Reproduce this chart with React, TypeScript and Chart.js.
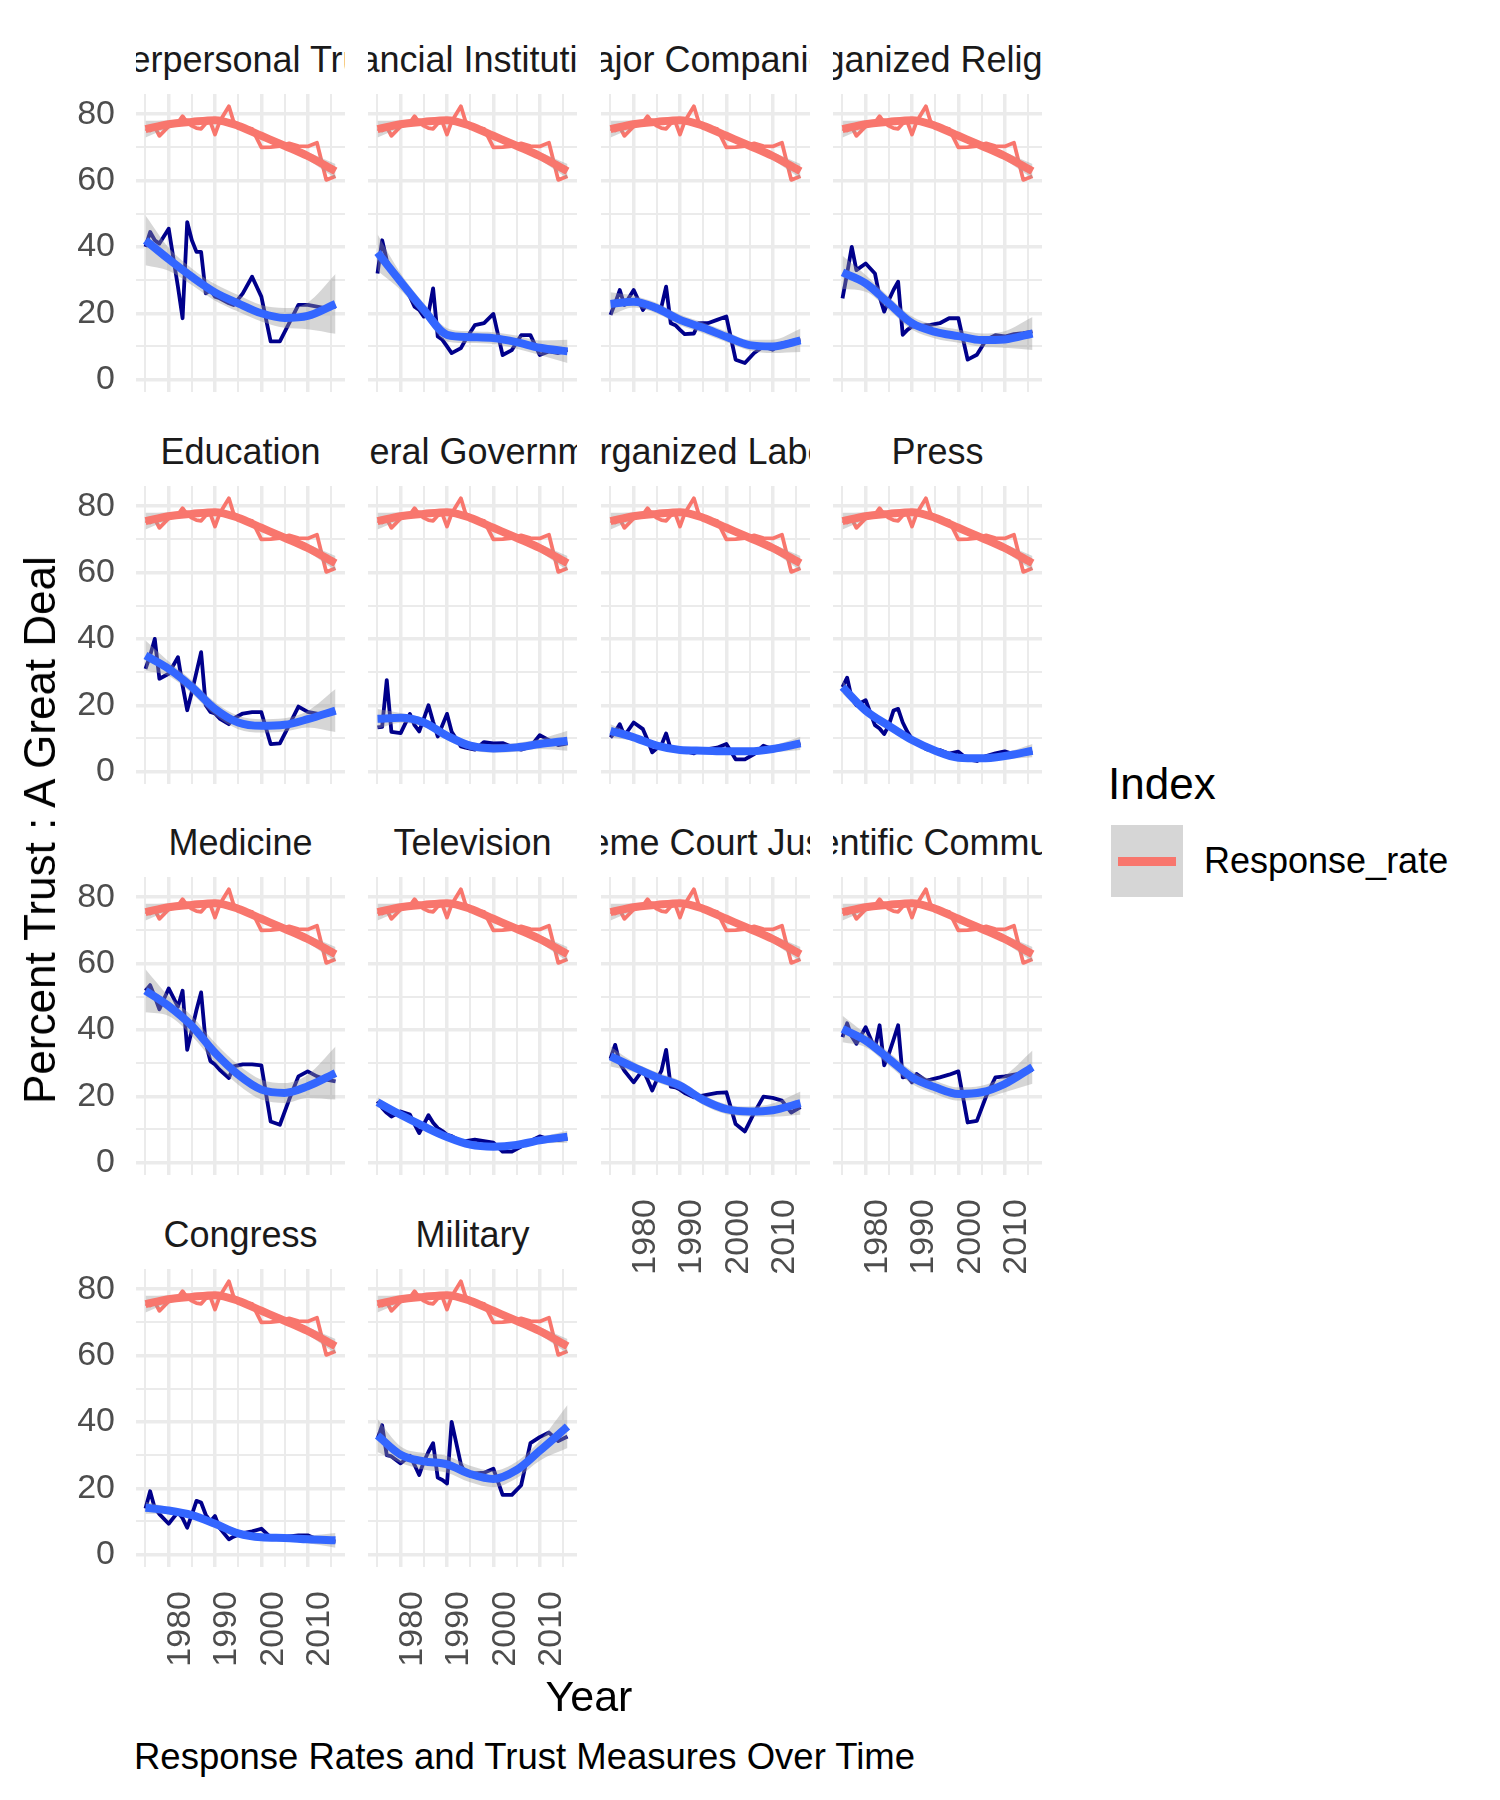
import React, { useEffect, useRef } from "react";
import { Chart, registerables } from "chart.js";

Chart.register(...registerables);

// ---------------- DATA ----------------
const YEARS = [1975, 1976, 1977, 1978, 1980, 1982, 1983, 1984, 1985, 1986, 1987, 1988, 1989, 1990, 1991, 1993, 1994, 1996, 1998, 2000, 2002, 2004, 2006, 2008, 2010, 2012, 2014, 2016];

const RESPONSE_RATE = [75.6, 75.1, 76.2, 73.5, 76.3, 77.5, 79.4, 77.5, 76.5, 75.8, 75.6, 77.2, 77.6, 73.9, 77.8, 82.4, 77.8, 76.1, 75.6, 70.0, 70.1, 70.4, 71.2, 70.4, 70.3, 71.4, 60.2, 61.3];

const SMOOTH_YEARS = [1975, 1980, 1985, 1990, 1995, 2000, 2005, 2010, 2016];
const RESPONSE_FIT = [75.5, 77.0, 77.7, 78.2, 76.5, 73.5, 70.5, 67.4, 62.8];
const RESPONSE_BAND = [2.5, 1.2, 1.0, 1.0, 1.0, 1.0, 1.0, 1.2, 2.2];

const FACET_TITLES = [
  "Interpersonal Trust", "Financial Institutions", "Major Companies", "Organized Religion",
  "Education", "Federal Government", "Organized Labor", "Press",
  "Medicine", "Television", "Supreme Court Justices", "Scientific Community",
  "Congress", "Military",
];

const TRUST_INTERPERSONAL = [40, 44.5, 42, 41, 45.5, 28, 18.5, 47.5, 42, 38.5, 38.5, 26, 27, 25, 24.5, 23, 22.5, 26, 31, 25, 11.5, 11.5, 17, 22.5, 22.5, 22, 21.5, 22];
const TRUST_FINANCIAL = [32, 42, 36, 33, 30, 25, 22, 21, 19, 20, 27.5, 13, 12, 10, 8, 9.5, 12, 16.4, 17, 19.8, 7.4, 8.9, 13.4, 13.4, 7.4, 8.5, 8, 9];
const TRUST_COMPANIES = [19.5, 23, 27, 22.5, 27, 21, 23, 21.5, 21, 22, 28, 17, 16.4, 15, 13.7, 13.9, 17, 17, 18, 19, 6, 5, 8, 10, 9, 10.9, 11.5, 12];
const TRUST_RELIGION = [24.5, 32, 40, 33, 35, 32, 25, 20.5, 24, 27, 29.5, 13.5, 15, 16, 16, 16.4, 16.5, 17, 18.5, 18.5, 6, 7.5, 12, 13.4, 13, 13.7, 14, 14.5];
const TRUST_EDUCATION = [31, 35, 40, 28, 29.5, 34.5, 26, 18.5, 24, 30, 36, 20, 18, 17.5, 16, 14.3, 16, 17.5, 17.9, 17.9, 8.3, 8.5, 14, 19.6, 18, 17.5, 17, 18];
const TRUST_FEDERAL = [13.3, 13.5, 27.6, 12, 11.6, 17.4, 14, 12.1, 16, 20, 15, 10.6, 14, 17.4, 12, 7.6, 7.2, 6.6, 8.9, 8.5, 8.6, 7.5, 6.6, 7.5, 11, 9.5, 8, 8.5];
const TRUST_LABOR = [10.3, 12, 14.3, 10.8, 14.8, 12.8, 9.5, 5.8, 7, 8, 11.5, 6.8, 6.5, 6.5, 6.2, 5.5, 6.2, 6.8, 7.2, 8.3, 3.7, 3.7, 5.3, 7.8, 6.8, 7.5, 7.8, 8.5];
const TRUST_PRESS = [25.5, 28.3, 22, 20, 21.5, 14, 13, 11.3, 14, 18.4, 18.9, 14.8, 12, 9.8, 9, 6.8, 6.5, 6.5, 5.4, 6, 3.7, 3.2, 4.7, 5.5, 6.1, 5.2, 5.5, 5.7];
const TRUST_MEDICINE = [51.8, 53.5, 50, 46.2, 52.5, 47, 51.8, 34, 40, 46, 51.3, 36, 30.6, 29.6, 28, 25.5, 29, 29.6, 29.6, 29.3, 12.4, 11.4, 19, 26, 27.5, 26, 25, 24.5];
const TRUST_TELEVISION = [18.5, 16.5, 15, 13.9, 15.4, 14.5, 11.5, 8.9, 11.5, 14.3, 12, 10.4, 9.5, 8.4, 8, 6.4, 6.5, 6.9, 6.5, 6, 3.3, 3.3, 4.8, 6.5, 7.9, 7, 6.8, 7.2];
const TRUST_SUPREME = [31.3, 35.5, 30, 27.7, 24.2, 28, 25, 21.7, 25, 27.7, 34, 22.9, 22.7, 22, 21, 19.7, 20, 20.5, 21, 21.2, 11.6, 9.4, 15, 19.9, 19.5, 18.7, 15.1, 16.7];
const TRUST_SCIENTIFIC = [37.8, 42, 38, 35.8, 40.8, 34.3, 41.4, 29.3, 32.8, 37, 41.4, 25.7, 26, 24.2, 26.7, 24.7, 25, 25.7, 26.5, 27.5, 12.1, 12.6, 20, 25.7, 26, 26.5, 27, 28];
const TRUST_CONGRESS = [13.9, 19.1, 14, 12.2, 9.3, 12.8, 11, 8.1, 12, 16.2, 15.7, 12, 10, 11.6, 8, 4.6, 5.4, 6.5, 7, 7.8, 5.2, 5, 5.5, 5.8, 5.8, 4.6, 4.2, 4];
const TRUST_MILITARY = [34.8, 39, 30, 29.6, 27.5, 29.8, 27, 24, 28, 31, 33.6, 23.2, 22.5, 21.4, 40, 27.2, 24.3, 24.5, 24.7, 25.9, 18, 18, 20.9, 33.6, 35.4, 36.8, 34.2, 35.6];

const FIT_INTERPERSONAL = [42, 36.3, 31, 26.3, 23, 20, 18.6, 19.2, 22.8];
const FIT_FINANCIAL = [38.3, 29.5, 21, 13.5, 12.8, 12.5, 11.3, 9.6, 8.5];
const FIT_COMPANIES = [22.8, 23.5, 21.5, 18, 15.6, 12.9, 10.4, 10, 11.8];
const FIT_RELIGION = [32.3, 29, 23, 17, 14.4, 13.1, 11.9, 12.1, 13.9];
const FIT_EDUCATION = [35, 31, 25.5, 18.9, 14.8, 13.8, 14.1, 15.8, 18.4];
const FIT_FEDERAL = [15.9, 16.2, 14.8, 10.8, 7.8, 7, 7.3, 8.3, 9.3];
const FIT_LABOR = [12.3, 10.3, 7.8, 6.5, 6.3, 6.1, 6.1, 6.8, 8.5];
const FIT_PRESS = [25.5, 18.4, 13.8, 9.5, 6.3, 4.2, 4, 4.7, 6.3];
const FIT_MEDICINE = [51.8, 47.2, 41.2, 33.1, 26.5, 22, 21, 23, 27];
const FIT_TELEVISION = [18.2, 14.4, 10.9, 7.7, 5.4, 4.8, 5.3, 6.7, 7.8];
const FIT_SUPREME = [32, 28.8, 25.7, 23.2, 18.9, 16.1, 15.4, 15.8, 17.9];
const FIT_SCIENTIFIC = [40.3, 36.8, 31.3, 25.7, 22.7, 20.7, 21.2, 23.7, 28.8];
const FIT_CONGRESS = [14.1, 13.3, 11.9, 9.3, 6.4, 5.2, 5, 4.6, 4.3];
const FIT_MILITARY = [35.9, 30.1, 28.1, 27.2, 24.3, 22.8, 25.5, 31.3, 38.6];

const BAND_INTERPERSONAL = [7.5, 3.5, 2.5, 2.5, 2.5, 2.5, 3, 4, 9];
const BAND_FINANCIAL = [5.5, 2.5, 2, 2, 1.8, 1.8, 2, 2.2, 3.5];
const BAND_COMPANIES = [3.5, 1.8, 1.6, 1.6, 1.6, 1.6, 1.6, 2, 3.5];
const BAND_RELIGION = [5, 2.5, 2, 2, 2, 2, 2, 2.5, 5];
const BAND_EDUCATION = [4.5, 2.2, 2, 2, 2, 2, 2, 2.5, 6.5];
const BAND_FEDERAL = [3, 1.5, 1.3, 1.3, 1.3, 1.3, 1.3, 1.5, 3];
const BAND_LABOR = [2, 1, 0.8, 0.8, 0.8, 0.8, 0.8, 1, 2];
const BAND_PRESS = [2, 1, 0.8, 0.8, 0.8, 0.8, 0.8, 1, 2];
const BAND_MEDICINE = [6.5, 3, 3, 3, 3, 3, 3, 3.5, 8];
const BAND_TELEVISION = [1.5, 0.8, 0.8, 0.8, 0.8, 0.8, 0.8, 1, 1.8];
const BAND_SUPREME = [3, 1.5, 1.5, 1.5, 1.5, 1.5, 1.5, 2, 3.5];
const BAND_SCIENTIFIC = [4, 2, 2, 2, 2, 2, 2, 2.5, 5];
const BAND_CONGRESS = [1.8, 1, 1, 1, 1, 1, 1, 1.2, 2.2];
const BAND_MILITARY = [5, 2.5, 2.5, 2.5, 2.5, 2.5, 2.5, 3, 6.5];

const X_GRID = [1975, 1980, 1985, 1990, 1995, 2000, 2005, 2010, 2015];
const X_TICK_LABELS = ["1980", "1990", "2000", "2010"];
const Y_GRID = [0, 10, 20, 30, 40, 50, 60, 70, 80];
const Y_TICK_LABELS = ["0", "20", "40", "60", "80"];

const PANELS = [
  { title: FACET_TITLES[0], trust: TRUST_INTERPERSONAL, fit: FIT_INTERPERSONAL, band: BAND_INTERPERSONAL },
  { title: FACET_TITLES[1], trust: TRUST_FINANCIAL, fit: FIT_FINANCIAL, band: BAND_FINANCIAL },
  { title: FACET_TITLES[2], trust: TRUST_COMPANIES, fit: FIT_COMPANIES, band: BAND_COMPANIES },
  { title: FACET_TITLES[3], trust: TRUST_RELIGION, fit: FIT_RELIGION, band: BAND_RELIGION },
  { title: FACET_TITLES[4], trust: TRUST_EDUCATION, fit: FIT_EDUCATION, band: BAND_EDUCATION },
  { title: FACET_TITLES[5], trust: TRUST_FEDERAL, fit: FIT_FEDERAL, band: BAND_FEDERAL },
  { title: FACET_TITLES[6], trust: TRUST_LABOR, fit: FIT_LABOR, band: BAND_LABOR },
  { title: FACET_TITLES[7], trust: TRUST_PRESS, fit: FIT_PRESS, band: BAND_PRESS },
  { title: FACET_TITLES[8], trust: TRUST_MEDICINE, fit: FIT_MEDICINE, band: BAND_MEDICINE },
  { title: FACET_TITLES[9], trust: TRUST_TELEVISION, fit: FIT_TELEVISION, band: BAND_TELEVISION },
  { title: FACET_TITLES[10], trust: TRUST_SUPREME, fit: FIT_SUPREME, band: BAND_SUPREME },
  { title: FACET_TITLES[11], trust: TRUST_SCIENTIFIC, fit: FIT_SCIENTIFIC, band: BAND_SCIENTIFIC },
  { title: FACET_TITLES[12], trust: TRUST_CONGRESS, fit: FIT_CONGRESS, band: BAND_CONGRESS },
  { title: FACET_TITLES[13], trust: TRUST_MILITARY, fit: FIT_MILITARY, band: BAND_MILITARY },
];

// ---------------- LAYOUT / STYLE ----------------
const FONT = '"Liberation Sans", Arial, Helvetica, sans-serif';
const COL_LEFTS = [136, 368, 601, 833];
const ROW_TOPS = [94, 486, 877, 1269];
const PW = 209;
const PH = 298;
const X_MIN = 1972.95;
const X_MAX = 2018.05;
const Y_MIN = -3.74;
const Y_MAX = 86.1;
const SALMON = "#F8766D";
const NAVY = "#00008B";
const SMOOTH_BLUE = "#3366FF";
const RIBBON = "rgba(153,153,153,0.4)";
const GRID = "#EBEBEB";

Chart.defaults.font.family = FONT;

const pts = (xs: number[], ys: number[]) => xs.map((x, k) => ({ x, y: ys[k] }));

function zeroPad(s: any) {
  s.paddingLeft = 0;
  s.paddingRight = 0;
  s.paddingTop = 0;
  s.paddingBottom = 0;
}

function Txt(props: { x: number; baseline: number; size: number; text: string; center?: boolean; color?: string }) {
  const { x, baseline, size, text, center, color } = props;
  return (
    <div
      style={{
        position: "absolute",
        left: x,
        top: baseline - 0.8465 * size,
        fontSize: size,
        lineHeight: 1,
        fontFamily: FONT,
        color: color || "#000",
        whiteSpace: "nowrap",
        transform: center ? "translateX(-50%)" : undefined,
      }}
    >
      {text}
    </div>
  );
}

export default function App() {
  const refs = useRef<(HTMLCanvasElement | null)[]>([]);

  useEffect(() => {
    const charts = PANELS.map((p, i) => {
      const c = i % 4;
      const showX = i >= 10;
      const showY = c === 0;
      const padL = showY ? 100 : 0;
      const padB = showX ? 140 : 0;
      const cv = refs.current[i] as HTMLCanvasElement;
      const upperResp = RESPONSE_FIT.map((v, k) => v + RESPONSE_BAND[k]);
      const lowerResp = RESPONSE_FIT.map((v, k) => v - RESPONSE_BAND[k]);
      const upperTrust = p.fit.map((v, k) => v + p.band[k]);
      const lowerTrust = p.fit.map((v, k) => v - p.band[k]);
      const smoothBase = {
        pointRadius: 0,
        cubicInterpolationMode: "monotone" as const,
        borderWidth: 8,
        fill: false,
        order: 0,
      };
      const bandBase = {
        pointRadius: 0,
        cubicInterpolationMode: "monotone" as const,
        borderWidth: 0,
        borderColor: "rgba(0,0,0,0)",
        backgroundColor: RIBBON,
        showLine: false,
        order: 1,
      };
      const thinBase = {
        pointRadius: 0,
        borderWidth: 3.8,
        tension: 0,
        fill: false,
        borderJoinStyle: "round" as const,
        order: 2,
      };
      return new Chart(cv, {
        type: "line",
        data: {
          datasets: [
            { ...smoothBase, data: pts(SMOOTH_YEARS, RESPONSE_FIT), borderColor: SALMON },
            { ...smoothBase, data: pts(SMOOTH_YEARS, p.fit), borderColor: SMOOTH_BLUE },
            { ...bandBase, data: pts(SMOOTH_YEARS, upperResp), fill: "+1" },
            { ...bandBase, data: pts(SMOOTH_YEARS, lowerResp), fill: false },
            { ...bandBase, data: pts(SMOOTH_YEARS, upperTrust), fill: "+1" },
            { ...bandBase, data: pts(SMOOTH_YEARS, lowerTrust), fill: false },
            { ...thinBase, data: pts(YEARS, RESPONSE_RATE), borderColor: SALMON },
            { ...thinBase, data: pts(YEARS, p.trust), borderColor: NAVY },
          ] as any,
        },
        options: {
          animation: false,
          responsive: false,
          devicePixelRatio: 1,
          events: [],
          layout: { padding: 0 },
          plugins: { legend: { display: false }, tooltip: { enabled: false } },
          scales: {
            x: {
              type: "linear",
              position: "bottom",
              min: X_MIN,
              max: X_MAX,
              afterBuildTicks: (axis: any) => {
                axis.ticks = X_GRID.map((v) => ({ value: v }));
              },
              afterFit: (s: any) => {
                s.height = padB;
                zeroPad(s);
              },
              border: { display: false },
              grid: {
                color: GRID,
                drawTicks: false,
                lineWidth: (ctx: any) => (ctx.tick && X_TICK_LABELS.includes(String(ctx.tick.value)) ? 3.5 : 2),
              },
              ticks: {
                display: showX,
                autoSkip: false,
                minRotation: 90,
                maxRotation: 90,
                padding: 24,
                labelOffset: 12,
                color: "#4D4D4D",
                font: { size: 34, family: FONT },
                callback: (v: any) => (X_TICK_LABELS.includes(String(v)) ? String(v) : ""),
              },
            },
            y: {
              type: "linear",
              min: Y_MIN,
              max: Y_MAX,
              afterBuildTicks: (axis: any) => {
                axis.ticks = Y_GRID.map((v) => ({ value: v }));
              },
              afterFit: (s: any) => {
                s.width = padL;
                zeroPad(s);
              },
              border: { display: false },
              grid: {
                color: GRID,
                drawTicks: false,
                lineWidth: (ctx: any) => (ctx.tick && Y_TICK_LABELS.includes(String(ctx.tick.value)) ? 3.5 : 2),
              },
              ticks: {
                display: showY,
                autoSkip: false,
                padding: 21,
                color: "#4D4D4D",
                font: { size: 34, family: FONT },
                callback: (v: any) => (Y_TICK_LABELS.includes(String(v)) ? String(v) : ""),
              },
            },
          },
        },
      } as any);
    });
    return () => charts.forEach((ch) => ch.destroy());
  }, []);

  const STRIP_SIZE = 36;

  return (
    <div style={{ position: "absolute", left: 0, top: 0, width: 1500, height: 1800, background: "#fff", overflow: "hidden" }}>
      {PANELS.map((p, i) => {
        const r = Math.floor(i / 4);
        const c = i % 4;
        const showX = i >= 10;
        const padL = c === 0 ? 100 : 0;
        const padB = showX ? 140 : 0;
        const w = PW + padL;
        const h = PH + padB;
        return (
          <canvas
            key={"cv" + i}
            ref={(el) => {
              refs.current[i] = el;
            }}
            width={w}
            height={h}
            style={{ position: "absolute", left: COL_LEFTS[c] - padL, top: ROW_TOPS[r], width: w, height: h }}
          />
        );
      })}

      {PANELS.map((p, i) => {
        const r = Math.floor(i / 4);
        const c = i % 4;
        const baseline = ROW_TOPS[r] - 22;
        return (
          <div
            key={"st" + i}
            style={{
              position: "absolute",
              left: COL_LEFTS[c],
              width: PW,
              top: baseline - 0.8465 * STRIP_SIZE,
              height: STRIP_SIZE * 1.25,
              overflow: "hidden",
              display: "flex",
              justifyContent: "center",
            }}
          >
            <span
              style={{
                flexShrink: 0,
                whiteSpace: "nowrap",
                fontFamily: FONT,
                fontSize: STRIP_SIZE,
                lineHeight: 1,
                color: "#1A1A1A",
              }}
            >
              {p.title}
            </span>
          </div>
        );
      })}

      {/* y axis title */}
      <div
        style={{
          position: "absolute",
          left: 40,
          top: 830,
          transform: "translate(-50%, -50%) rotate(-90deg)",
          fontFamily: FONT,
          fontSize: 44,
          lineHeight: 1,
          whiteSpace: "nowrap",
          color: "#000",
        }}
      >
        Percent Trust : A Great Deal
      </div>

      {/* x axis title */}
      <Txt x={589} baseline={1711} size={43} text="Year" center />

      {/* caption */}
      <Txt x={134} baseline={1770} size={36.5} text="Response Rates and Trust Measures Over Time" />

      {/* legend */}
      <Txt x={1108} baseline={799} size={44} text="Index" />
      <div style={{ position: "absolute", left: 1111, top: 825, width: 72, height: 72, background: "#D6D6D6" }} />
      <div style={{ position: "absolute", left: 1118, top: 857, width: 58, height: 9, background: SALMON }} />
      <Txt x={1204} baseline={873} size={36} text="Response_rate" />
    </div>
  );
}
